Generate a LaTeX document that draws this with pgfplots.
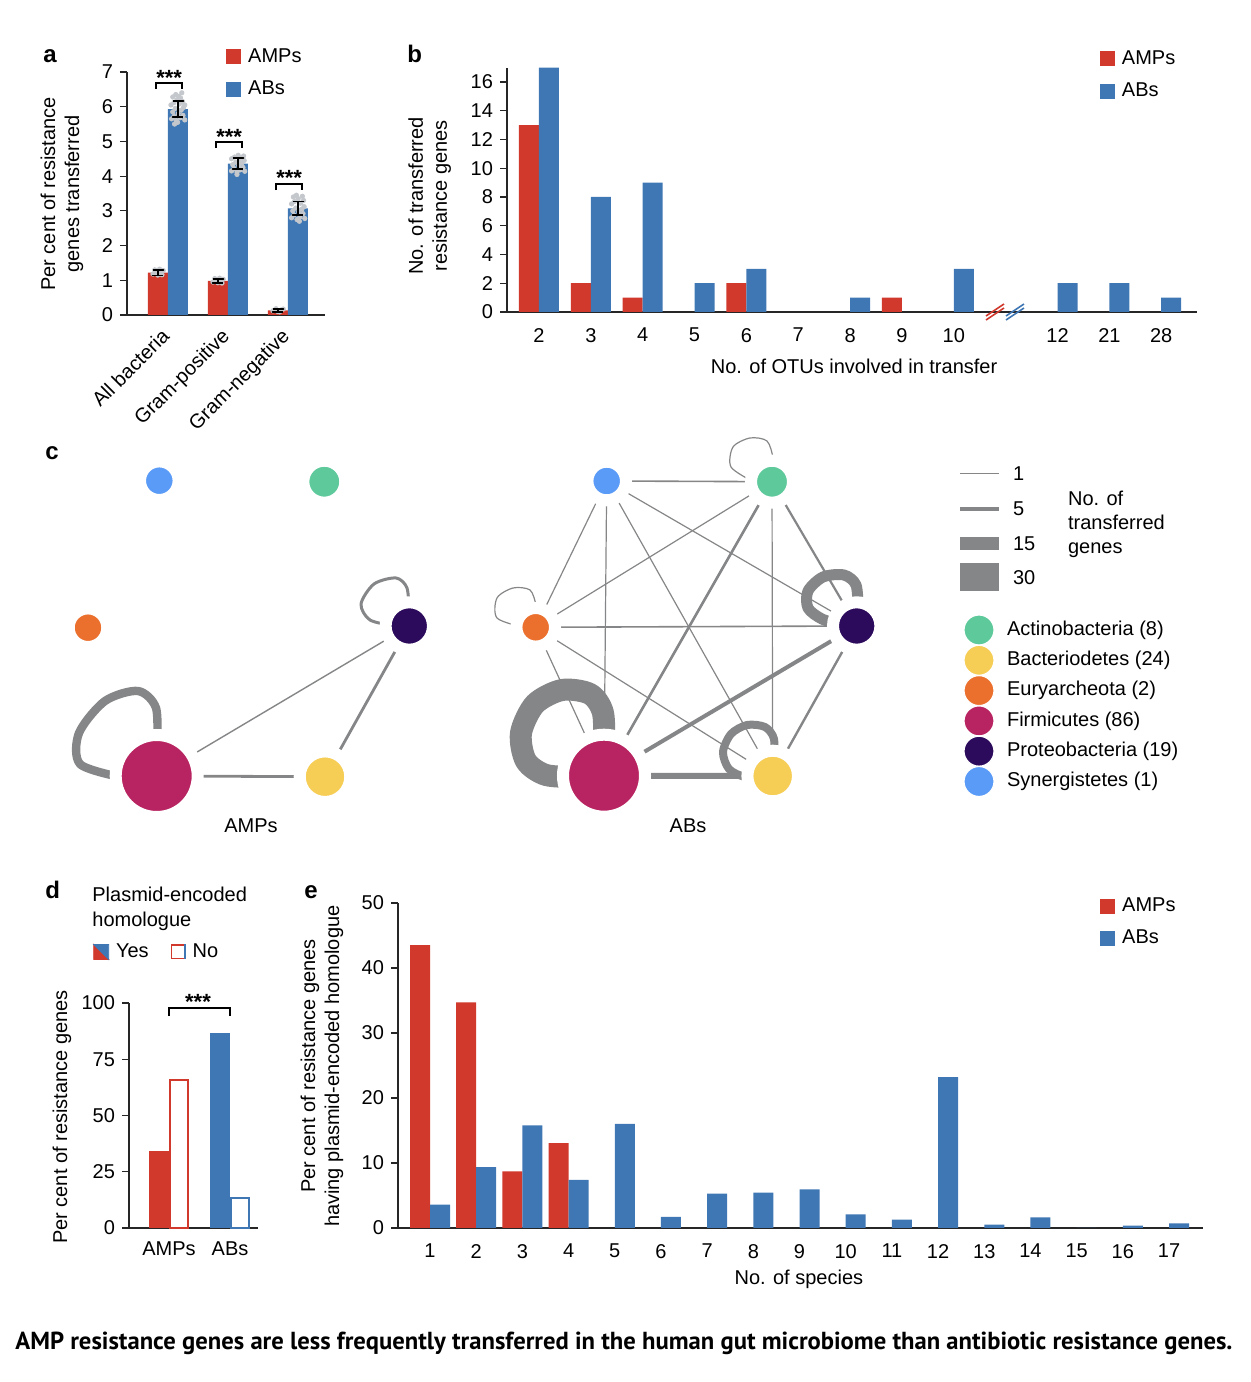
\documentclass[border=0pt]{standalone}
\usepackage{graphicx}
\usepackage{fontspec}
\setmainfont{Liberation Sans}
\newfontfamily\capfont{PT Sans}
\usepackage{pgfplots}
\pgfplotsset{compat=1.18}
\definecolor{myred}{HTML}{D0392B}
\definecolor{myblue}{HTML}{3F77B4}
\definecolor{edge}{HTML}{858687}
\definecolor{csyn}{HTML}{5A9BF7}
\definecolor{cact}{HTML}{5EC99B}
\definecolor{ceur}{HTML}{EB702D}
\definecolor{cfirm}{HTML}{B82461}
\definecolor{cprot}{HTML}{2C0A5C}
\definecolor{cbact}{HTML}{F6CD55}
\definecolor{cloudc}{HTML}{C4C8CC}
\pgfplotsset{
  basic/.style={scale only axis, anchor=south west, axis lines*=left,
    axis line style={black!85, line width=0.7pt},
    tick align=outside, major tick length=3.5pt,
    ytick style={black!85, line width=0.6pt},
    xtick style={draw=none},
    /pgf/number format/assume math mode=true,
    clip=false,
    legend cell align=left,
    legend style={draw=none, fill=none, inner sep=0pt, row sep=3.8pt, nodes={inner sep=2pt},
      /tikz/every odd column/.append style={column sep=1.5pt}},
  },
  ed/.style={draw=edge, mark=none, line cap=butt, line join=round, forget plot},
  cloud/.style={forget plot, only marks, mark=*, mark size=1.1pt, mark options={fill=cloudc, draw=cloudc}},
  ebar/.style={draw=black, line width=0.9pt, mark=none, forget plot, line join=round},
}
\newcommand{\sq}[1]{\addlegendimage{legend image code/.code={\fill[#1] (0pt,-3.5pt) rectangle (7pt,3.5pt);}}}
\newcommand{\nd}[4]{\addplot[forget plot, only marks, mark=*, mark size=#3, mark options={fill=#4, draw=white, line width=6pt}] coordinates {(#1,#2)};}
\newcommand{\lc}[2]{\addplot[forget plot, only marks, mark=*, mark size=7.5pt, mark options={fill=#1, draw=white, line width=0.6pt}] coordinates {(979,#2)};}
\begin{document}
\begin{tikzpicture}
\path[use as bounding box] (0,0) rectangle (625pt,691pt);

% panel labels
\node[anchor=base west, inner sep=0pt, font=\bfseries\fontsize{12}{12}\selectfont] at (21.5pt,659.5pt) {a};
\node[anchor=base west, inner sep=0pt, font=\bfseries\fontsize{12}{12}\selectfont] at (203.5pt,659.5pt) {b};
\node[anchor=base west, inner sep=0pt, font=\bfseries\fontsize{12}{12}\selectfont] at (22.5pt,461pt) {c};
\node[anchor=base west, inner sep=0pt, font=\bfseries\fontsize{12}{12}\selectfont] at (22.5pt,241.5pt) {d};
\node[anchor=base west, inner sep=0pt, font=\bfseries\fontsize{12}{12}\selectfont] at (152pt,241.5pt) {e};

% ---------------- panel a
\begin{axis}[basic, clip mode=individual, at={(63.5pt,533.5pt)}, width=99pt, height=121.5pt,
  xmin=-0.683, xmax=2.617, ymin=0, ymax=7, ytick={0,1,...,7},
  xtick={0,1,2}, xticklabels={All bacteria,Gram-positive,Gram-negative},
  xticklabel style={rotate=45, anchor=north east, inner sep=1pt, xshift=-3.5pt, yshift=2pt},
  ylabel={Per cent of resistance\\genes transferred},
  ylabel style={align=center, at={(axis description cs:-0.328,0.498)}, anchor=center},
  legend style={at={(axis description cs:0.5,1.115)}, anchor=north west}]
\sq{myred}\addlegendentry{AMPs}
\sq{myblue}\addlegendentry{ABs}
\addplot[ybar, bar width=10pt, bar shift=-5pt, fill=myred, draw=none, forget plot] coordinates {(0,1.22)(1,0.98)(2,0.13)};
\addplot[ybar, bar width=10pt, bar shift=5pt, fill=myblue, draw=none, forget plot] coordinates {(0,5.93)(1,4.36)(2,3.07)};
\addplot[cloud] coordinates {(0.06,5.65)(0.10,5.72)(0.14,5.60)(0.20,5.68)(0.25,5.75)(0.28,5.62)(0.08,5.85)(0.12,5.95)(0.17,5.80)(0.22,5.90)(0.26,5.98)(0.05,6.05)(0.10,6.12)(0.15,6.20)(0.19,6.08)(0.24,6.15)(0.28,6.05)(0.08,6.28)(0.13,6.35)(0.18,6.30)(0.23,6.40)(0.16,5.55)(0.21,6.25)(0.11,5.50)};
\addplot[cloud] coordinates {(1.06,4.15)(1.10,4.22)(1.15,4.12)(1.20,4.18)(1.25,4.25)(1.28,4.14)(1.08,4.33)(1.13,4.40)(1.18,4.30)(1.23,4.38)(1.27,4.45)(1.06,4.50)(1.11,4.55)(1.17,4.60)(1.21,4.52)(1.26,4.58)(1.15,4.05)(1.19,4.47)};
\addplot[cloud] coordinates {(2.06,2.80)(2.10,2.88)(2.15,2.75)(2.20,2.83)(2.25,2.92)(2.28,2.78)(2.08,3.00)(2.13,3.08)(2.18,2.97)(2.23,3.05)(2.27,3.12)(2.06,3.20)(2.11,3.27)(2.17,3.35)(2.21,3.22)(2.26,3.30)(2.14,3.45)(2.19,2.70)(2.09,3.40)(2.24,3.42)};
\addplot[cloud] coordinates {(-0.25,1.18)(-0.21,1.25)(-0.17,1.15)(-0.12,1.22)(-0.08,1.28)(-0.22,1.30)(-0.14,1.32)(-0.10,1.16)(-0.19,1.20)};
\addplot[cloud] coordinates {(0.75,0.95)(0.79,1.00)(0.83,0.93)(0.88,0.98)(0.92,1.03)(0.78,1.05)(0.86,1.06)(0.90,0.92)};
\addplot[cloud] coordinates {(1.75,0.12)(1.79,0.15)(1.83,0.10)(1.88,0.14)(1.92,0.17)(1.80,0.18)(1.86,0.09)};
% error bars (value +- error), drawn as I-shapes
\addplot[ebar] coordinates {(-0.2567,1.30)(-0.0767,1.30)(-0.1667,1.30)(-0.1667,1.14)(-0.2567,1.14)(-0.0767,1.14)};
\addplot[ebar] coordinates {(0.7433,1.04)(0.9233,1.04)(0.8333,1.04)(0.8333,0.92)(0.7433,0.92)(0.9233,0.92)};
\addplot[ebar] coordinates {(1.7433,0.17)(1.9233,0.17)(1.8333,0.17)(1.8333,0.09)(1.7433,0.09)(1.9233,0.09)};
\addplot[ebar] coordinates {(0.0767,6.165)(0.2567,6.165)(0.1667,6.165)(0.1667,5.695)(0.0767,5.695)(0.2567,5.695)};
\addplot[ebar] coordinates {(1.0767,4.52)(1.2567,4.52)(1.1667,4.52)(1.1667,4.20)(1.0767,4.20)(1.2567,4.20)};
\addplot[ebar] coordinates {(2.0767,3.27)(2.2567,3.27)(2.1667,3.27)(2.1667,2.87)(2.0767,2.87)(2.2567,2.87)};
\addplot[black, line width=0.8pt, mark=none, forget plot] coordinates {(-0.2,6.51)(-0.2,6.69)(0.23,6.69)(0.23,6.51)};
\addplot[black, line width=0.8pt, mark=none, forget plot] coordinates {(0.8,4.81)(0.8,4.99)(1.23,4.99)(1.23,4.81)};
\addplot[black, line width=0.8pt, mark=none, forget plot] coordinates {(1.8,3.60)(1.8,3.78)(2.23,3.78)(2.23,3.60)};
\node[anchor=base, inner sep=0pt, font=\bfseries\fontsize{11}{11}\selectfont] at (axis cs:0.02,6.61) {***};
\node[anchor=base, inner sep=0pt, font=\bfseries\fontsize{11}{11}\selectfont] at (axis cs:1.02,4.91) {***};
\node[anchor=base, inner sep=0pt, font=\bfseries\fontsize{11}{11}\selectfont] at (axis cs:2.02,3.73) {***};
\end{axis}

% ---------------- panel b
\begin{axis}[basic, at={(253.5pt,535pt)}, width=345pt, height=122.2pt,
  xmin=-0.617, xmax=12.69, ymin=0, ymax=17, ytick={0,2,...,16},
  xtick={0,1,2,3,4,5,6,7,8,10,11,12}, xticklabels={2,3,4,5,6,7,8,9,10,12,21,28},
  xticklabel style={yshift=-1pt},
  xlabel={No. of OTUs involved in transfer},
  xlabel style={at={(axis description cs:0.503,-0.221)}, anchor=center},
  ylabel={No. of transferred\\resistance genes},
  ylabel style={align=center, at={(axis description cs:-0.112,0.475)}, anchor=center},
  legend style={at={(axis description cs:0.859,1.088)}, anchor=north west}]
\sq{myred}\addlegendentry{AMPs}
\sq{myblue}\addlegendentry{ABs}
\addplot[ybar, bar width=10pt, bar shift=-5pt, fill=myred, draw=none, forget plot] coordinates {(0,13)(1,2)(2,1)(4,2)(7,1)};
\addplot[ybar, bar width=10pt, bar shift=5pt, fill=myblue, draw=none, forget plot] coordinates {(0,17)(1,8)(2,9)(3,2)(4,3)(6,1)(8,3)(10,2)(11,2)(12,1)};
\addplot[myred, line width=0.8pt, mark=none, forget plot] coordinates {(8.621,-0.556)(8.969,0.278)};
\addplot[myred, line width=0.8pt, mark=none, forget plot] coordinates {(8.621,-0.278)(8.969,0.556)};
\addplot[myblue, line width=0.8pt, mark=none, forget plot] coordinates {(9.006,-0.556)(9.354,0.278)};
\addplot[myblue, line width=0.8pt, mark=none, forget plot] coordinates {(9.006,-0.278)(9.354,0.556)};
\end{axis}

% ---------------- panel c (network), coordinates in picture pixels
\begin{axis}[at={(20pt,271pt)}, anchor=south west, scale only axis, width=605pt, height=200pt,
  xmin=40, xmax=1250, ymin=440, ymax=840, y dir=reverse, hide axis, clip=false]
% AMPs edges
\addplot[ed, line width=0.7pt] coordinates {(156.7,776)(409.3,626)};
\addplot[ed, line width=1.4pt] coordinates {(156.7,776)(325,776.7)};
\addplot[ed, line width=1.4pt] coordinates {(409.3,626)(325,776.7)};
\addplot[ed, line width=4.2pt, smooth] coordinates {(157,748)(156,708)(138,691)(105,701)(79,733)(80,764)(120,777)};
\addplot[ed, line width=1.5pt, smooth] coordinates {(409,612)(407,588)(396,578)(374,584)(361,604)(370,620)(395,626)};
\nd{159.3}{480.7}{9.65pt}{csyn}
\nd{324.3}{481.7}{10.5pt}{cact}
\nd{88}{627.7}{9.65pt}{ceur}
\nd{409.3}{626}{11.85pt}{cprot}
\nd{156.7}{776}{20.5pt}{cfirm}
\nd{325}{776.7}{12.65pt}{cbact}
% ABs edges
\addplot[ed, line width=0.8pt] coordinates {(606.7,481)(772,481.7)};
\addplot[ed, line width=0.6pt] coordinates {(606.7,481)(535.7,627.3)};
\addplot[ed, line width=0.6pt] coordinates {(606.7,481)(604,775.7)};
\addplot[ed, line width=0.6pt] coordinates {(606.7,481)(772.7,776)};
\addplot[ed, line width=0.6pt] coordinates {(606.7,481)(856.7,626)};
\addplot[ed, line width=0.6pt] coordinates {(772,481.7)(535.7,627.3)};
\addplot[ed, line width=1.3pt] coordinates {(772,481.7)(604,775.7)};
\addplot[ed, line width=0.6pt] coordinates {(772,481.7)(772.7,776)};
\addplot[ed, line width=1.1pt] coordinates {(772,481.7)(856.7,626)};
\addplot[ed, line width=0.8pt] coordinates {(535.7,627.3)(856.7,626)};
\addplot[ed, line width=0.6pt] coordinates {(535.7,627.3)(604,775.7)};
\addplot[ed, line width=0.6pt] coordinates {(535.7,627.3)(772.7,776)};
\addplot[ed, line width=2pt] coordinates {(856.7,626)(604,775.7)};
\addplot[ed, line width=1.2pt] coordinates {(856.7,626)(772.7,776)};
\addplot[ed, line width=3pt] coordinates {(604,775.7)(772.7,776)};
% ABs loops
\addplot[ed, line width=0.6pt, smooth] coordinates {(752,481)(731,467)(733,447)(750,438)(767,441)(773,458)(772,470)};
\addplot[ed, line width=0.6pt, smooth] coordinates {(522,627)(497,618)(497,598)(513,588)(530,590)(536,605)(536,615)};
\addplot[ed, line width=5.5pt, smooth] coordinates {(858,608)(856,585)(844,575)(823,577)(808,591)(808,608)(822,619)(842,625)};
\addplot[ed, line width=11pt, smooth] coordinates {(604,750)(603,713)(590,694)(562,690)(535,704)(521,733)(526,761)(546,775)(578,777)};
\addplot[ed, line width=4pt, smooth] coordinates {(773,762)(774,739)(765,727)(747,725)(731,734)(723,752)(729,769)(745,777)(762,777)};
\nd{606.7}{481}{9.65pt}{csyn}
\nd{772}{481.7}{10.5pt}{cact}
\nd{535.7}{627.3}{9.65pt}{ceur}
\nd{856.7}{626}{11.85pt}{cprot}
\nd{604}{775.7}{20.5pt}{cfirm}
\nd{772.7}{776}{12.65pt}{cbact}
\node at (axis cs:251,826) {AMPs};
\node at (axis cs:688,826) {ABs};
% legend of c
\addplot[ed, line width=0.5pt] coordinates {(960,474)(999,474)};
\addplot[ed, line width=1.8pt] coordinates {(960,509)(999,509)};
\addplot[ed, line width=6.4pt] coordinates {(960,543.7)(999,543.7)};
\addplot[ed, line width=14pt] coordinates {(960,577.5)(999,577.5)};
\node[anchor=west] at (axis cs:1006,474) {1};
\node[anchor=west] at (axis cs:1006,509) {5};
\node[anchor=west] at (axis cs:1006,544) {15};
\node[anchor=west] at (axis cs:1006,578) {30};
\node[anchor=west, align=left] at (axis cs:1061,524) {No. of\\transferred\\genes};
\lc{cact}{630}
\lc{cbact}{660.3}
\lc{ceur}{690.6}
\lc{cfirm}{720.9}
\lc{cprot}{751.2}
\lc{csyn}{781.5}
\node[anchor=west] at (axis cs:1000,630) {Actinobacteria (8)};
\node[anchor=west] at (axis cs:1000,660.3) {Bacteriodetes (24)};
\node[anchor=west] at (axis cs:1000,690.6) {Euryarcheota (2)};
\node[anchor=west] at (axis cs:1000,720.9) {Firmicutes (86)};
\node[anchor=west] at (axis cs:1000,751.2) {Proteobacteria (19)};
\node[anchor=west] at (axis cs:1000,781.5) {Synergistetes (1)};
\end{axis}

% ---------------- panel d
\node[anchor=base west, inner sep=0pt, align=left, font=\fontsize{10}{12.5}\selectfont] at (46pt,227.5pt) {Plasmid-encoded\\homologue};
\begin{axis}[basic, at={(64.5pt,77pt)}, width=64.5pt, height=112.5pt,
  xmin=-0.656, xmax=1.459, ymin=0, ymax=100, ytick={0,25,50,75,100},
  xtick={0,1}, xticklabels={AMPs,ABs},
  ylabel={Per cent of resistance genes},
  ylabel style={at={(axis description cs:-0.519,0.493)}, anchor=center},
  legend columns=2,
  legend style={at={(axis description cs:-0.28,1.227)}, anchor=west,
    /tikz/every even column/.append style={column sep=9pt}}]
\addlegendimage{legend image code/.code={\fill[myred] (0pt,-3.75pt) -- (7.5pt,-3.75pt) -- (0pt,3.75pt) -- cycle; \fill[myblue] (7.5pt,-3.75pt) -- (7.5pt,3.75pt) -- (0pt,3.75pt) -- cycle;}}
\addlegendentry{Yes}
\addlegendimage{legend image code/.code={\draw[myred, line width=0.8pt] (7.1pt,-3.35pt) -- (0.4pt,-3.35pt) -- (0.4pt,3.35pt) -- (7.1pt,3.35pt); \draw[myblue, line width=0.8pt] (7.1pt,3.75pt) -- (7.1pt,-3.75pt);}}
\addlegendentry{No}
\addplot[ybar, bar width=10pt, bar shift=-5pt, fill=myred, draw=none, forget plot] coordinates {(0,34.2)};
\addplot[ybar, bar width=10pt, bar shift=-5pt, fill=myblue, draw=none, forget plot] coordinates {(1,86.5)};
\addplot[ybar, bar width=9pt, bar shift=5pt, fill=white, draw=myred, line width=1pt, forget plot] coordinates {(0,65.8)};
\addplot[ybar, bar width=9pt, bar shift=5pt, fill=white, draw=myblue, line width=1pt, forget plot] coordinates {(1,13.5)};
\addplot[black, line width=0.8pt, mark=none, forget plot] coordinates {(0,94.2)(0,97.8)(1,97.8)(1,94.2)};
\node[anchor=base, inner sep=0pt, font=\bfseries\fontsize{11}{11}\selectfont] at (axis cs:0.475,97.1) {***};
\end{axis}

% ---------------- panel e
\begin{axis}[basic, at={(199pt,77pt)}, width=402.5pt, height=162.5pt,
  xmin=0.307, xmax=17.736, ymin=0, ymax=50, ytick={0,10,...,50},
  xtick={1,...,17}, xticklabel style={yshift=-1pt},
  xlabel={No. of species},
  xlabel style={at={(axis description cs:0.498,-0.157)}, anchor=center},
  ylabel={Per cent of resistance genes\\having plasmid-encoded homologue},
  ylabel style={align=center, at={(axis description cs:-0.0944,0.498)}, anchor=center},
  legend style={at={(axis description cs:0.872,1.03)}, anchor=north west}]
\sq{myred}\addlegendentry{AMPs}
\sq{myblue}\addlegendentry{ABs}
\addplot[ybar, bar width=10pt, bar shift=-5pt, fill=myred, draw=none, forget plot] coordinates {(1,43.5)(2,34.7)(3,8.7)(4,13.05)};
\addplot[ybar, bar width=10pt, bar shift=5pt, fill=myblue, draw=none, forget plot] coordinates {(1,3.6)(2,9.35)(3,15.8)(4,7.4)(5,16.0)(6,1.7)(7,5.3)(8,5.45)(9,5.96)(10,2.1)(11,1.3)(12,23.2)(13,0.5)(14,1.65)(15,0)(16,0.35)(17,0.7)};
\end{axis}

% caption
\node[anchor=base west, inner sep=0pt] at (7.5pt,16pt) {\resizebox{608.5pt}{!}{\capfont\bfseries AMP resistance genes are less frequently transferred in the human gut microbiome than antibiotic resistance genes.}};
\end{tikzpicture}
\end{document}
